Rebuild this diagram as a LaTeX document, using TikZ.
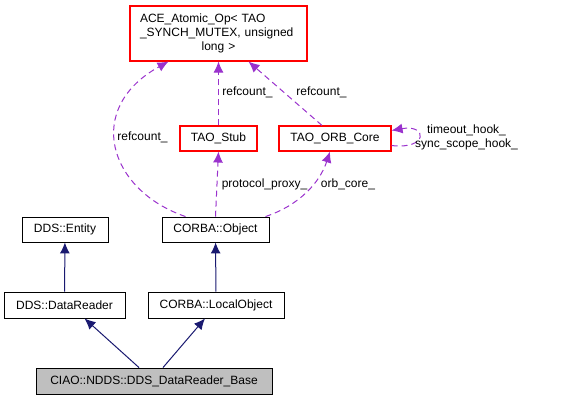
\documentclass[tikz,border=0pt]{standalone}
\usepackage{fontspec}
\setmainfont{Liberation Sans}
\usetikzlibrary{arrows.meta, positioning}

\definecolor{usepurple}{HTML}{9A32CD}
\definecolor{inhnavy}{HTML}{191970}

\begin{document}
\begin{tikzpicture}[
    x=1pt, y=-1pt,
    every node/.style={font=\fontsize{12}{14}\selectfont},
    box/.style={rectangle, draw, line width=0.9pt, minimum height=25pt, inner sep=0pt},
    refbox/.style={box, draw=red, line width=1.1pt},
    inherit/.style={-{Latex[length=11pt,width=10pt]}, color=inhnavy, line width=1pt},
    usage/.style={-{Latex[length=11pt,width=10pt]}, color=usepurple, line width=1pt, dash pattern=on 6pt off 4pt},
    lbl/.style={inner sep=0pt}
]
\useasboundingbox (0,0) rectangle (563,400);

\node[refbox, minimum width=177pt, minimum height=55pt, text width=157pt, align=left] (ace) at (218.5,33.5)
    {ACE\_Atomic\_Op< TAO \\ \_SYNCH\_MUTEX, unsigned \\ \hfill long >\hfill\null};

\node[refbox, minimum width=77pt] (stub) at (218.5,138.5) {TAO\_Stub};
\node[refbox, minimum width=112pt] (orbcore) at (335,138.5) {TAO\_ORB\_Core};

\node[box, minimum width=86pt] (entity) at (65,229.5) {DDS::Entity};
\node[box, minimum width=107pt] (object) at (215.5,229.5) {CORBA::Object};

\node[box, minimum width=121pt, minimum height=26pt] (reader) at (64.5,305) {DDS::DataReader};
\node[box, minimum width=136pt, minimum height=26pt] (localobj) at (216,305) {CORBA::LocalObject};

\node[box, minimum width=236pt, minimum height=26pt, fill=gray!50] (base) at (154,381)
    {CIAO::NDDS::DDS\_DataReader\_Base};

% Inheritance
\draw[inherit] (reader) -- (entity);
\draw[inherit] (localobj) -- (object);
\draw[inherit] ([xshift=-15pt]base.north) -- ([xshift=20pt]reader.south);
\draw[inherit] ([xshift=9pt]base.north) -- ([xshift=-11pt]localobj.south);

% Usage
\draw[usage] ([xshift=-30pt]object.north) .. controls (108,190) and (84,108) .. ([xshift=-50pt]ace.south);
\draw[usage] (object.north) -- (stub.south);
\draw[usage] ([xshift=50pt]object.north) .. controls (300,205) and (320,182) .. ([xshift=-5pt]orbcore.south);
\draw[usage] (stub) -- (ace.south);
\draw[usage] ([xshift=-13pt]orbcore.north) -- ([xshift=30pt]ace.south);
\draw[usage] ([yshift=-7pt]orbcore.east) .. controls (428,150) and (428,124) .. ([yshift=8pt]orbcore.east);

% Labels
\node[lbl] (lblrefa) at (142.5,137) {refcount\_};
\node[lbl] (lblrefb) at (247.5,92) {refcount\_};
\node[lbl] (lblrefc) at (321.5,92) {refcount\_};
\node[lbl] (lblproxy) at (264.5,184) {protocol\_proxy\_};
\node[lbl] (lblorb) at (348,184) {orb\_core\_};
\node[lbl, align=center] (lblhooks) at (466.5,137.5) {timeout\_hook\_ \\ sync\_scope\_hook\_};

\end{tikzpicture}
\end{document}
